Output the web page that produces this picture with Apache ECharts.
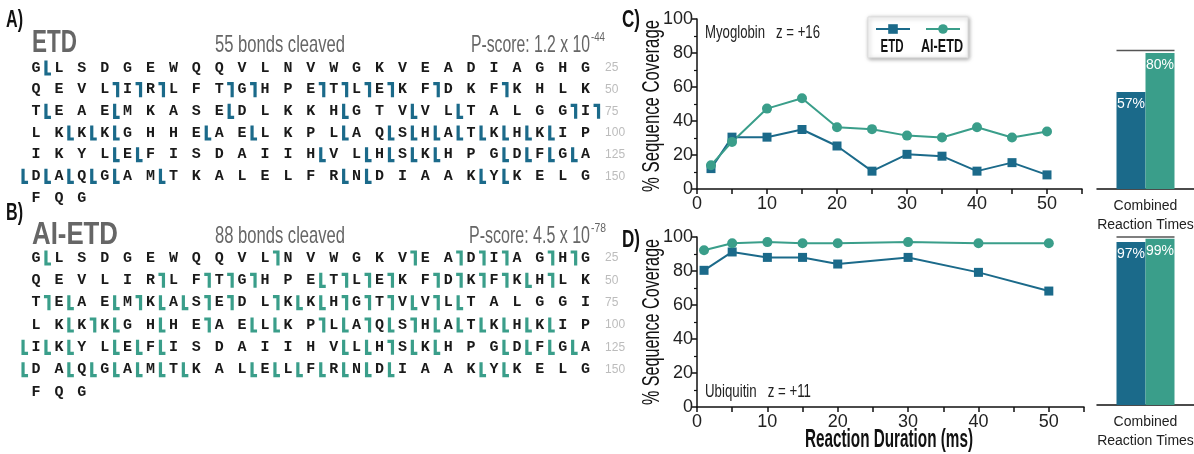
<!DOCTYPE html>
<html><head><meta charset="utf-8">
<script src="https://cdn.jsdelivr.net/npm/echarts@6/dist/echarts.min.js"></script>
<style>html,body{margin:0;padding:0;background:#fff}#c{width:1194px;height:454px}</style>
</head><body><div id="c"></div>
<script>
// ---------- data ----------
const sequence = 'GLSDGEWQQVLNVWGKVEADIAGHGQEVLIRLFTGHPETLEKFDKFKHLKTEAEMKASEDLKKHGTVVLTALGGILKKKGHHEAELKPLAQSHATKHKIPIKYLEFISDAIIHVLHSKHPGDFGADAQGAMTKALELFRNDIAAKYKELGFQG';
const rowNumbers = ['25', '50', '75', '100', '125', '150'];
// cleavage after residue n ; C = N-terminal (⌉), Z = C-terminal (⌊)
const etdC = [29,30,31,34,35,38,39,40,41,43,46,74,75];
const etdZ = [1,51,54,59,64,67,69,77,78,79,83,85,89,91,92,93,94,95,96,97,98,104,105,113,115,116,117,118,121,122,123,124,125,126,127,128,129,131,139,140,145,146];
const aiC = [11,17,19,20,21,23,24,31,33,34,35,39,40,41,43,44,45,46,48,51,55,58,59,61,64,65,66,68,78,83,88,90,92,116];
const aiZ = [1,38,47,52,54,56,57,62,63,67,69,77,79,81,85,86,89,91,93,94,95,96,97,98,100,101,102,104,105,106,114,115,117,118,121,122,123,124,125,127,128,129,130,131,132,135,136,137,138,139,140,141,145,146];

const myoDurations = [2,5,10,15,20,25,30,35,40,45,50];
const myoEtd = [12,30.5,30.5,35,25.3,10.5,20.4,19.3,10.5,15.5,8.3];
const myoAi  = [14,27.7,47.3,53.4,36.3,35.2,31.4,30.3,36.3,30.3,33.8];
const ubqDurations = [1,5,10,15,20,30,40,50];
const ubqEtd = [80.4,91.2,88,88,84.1,88,79.2,68.2];
const ubqAi  = [92.2,96.3,97,96.3,96.3,97,96.3,96.3];
const combinedCategory = ['Combined\nReaction Times'];
const myoCombined = {etd: 57, ai: 80, ref: 81.5};
const ubqCombined = {etd: 97, ai: 99, ref: 100};

// ---------- style ----------
const SANS = '"Liberation Sans",Arial,sans-serif';
const MONO = '"Liberation Mono","DejaVu Sans Mono",monospace';
const ETD_COLOR = '#1b6a8a';
const AI_COLOR = '#3a9e8a';

function letterData() {
  const d = [];
  for (let i = 0; i < sequence.length; i++) d.push([i % 25, Math.floor(i / 25)]);
  return d;
}
function markerData(cList, zList) {
  const d = [];
  cList.forEach(n => d.push([((n - 1) % 25) + 0.5, Math.floor((n - 1) / 25), 0]));
  zList.forEach(n => d.push([(n % 25) - 0.5, Math.floor(n / 25), 1]));
  return d;
}
function rowNumData() { return rowNumbers.map((t, i) => [24.85, i]); }

function seqSeries(gi, cList, zList, color) {
  return [
    {type: 'custom', xAxisIndex: gi, yAxisIndex: gi, data: letterData(), silent: true,
     renderItem: (params, api) => {
       const p = api.coord([api.value(0), api.value(1)]);
       return {type: 'text', x: p[0], y: p[1], style: {text: sequence[params.dataIndex], font: 'bold 15px ' + MONO, fill: '#1a1a1a', align: 'center', verticalAlign: 'middle'}};
     }},
    {type: 'custom', xAxisIndex: gi, yAxisIndex: gi, data: rowNumData(), silent: true,
     renderItem: (params, api) => {
       const p = api.coord([api.value(0), api.value(1)]);
       return {type: 'text', x: p[0], y: p[1], style: {text: rowNumbers[params.dataIndex], font: '12px ' + SANS, fill: '#bcbcbc', align: 'left', verticalAlign: 'middle'}};
     }},
    {type: 'custom', xAxisIndex: gi, yAxisIndex: gi, data: markerData(cList, zList), silent: true,
     renderItem: (params, api) => {
       const p = api.coord([api.value(0), api.value(1)]);
       const h = 7.5, w = 5;
       let pts;
       if (api.value(2) === 0) {
         const x = p[0] + 1.5;
         pts = [[x - w, p[1] - h + 1.5], [x, p[1] - h + 1.5], [x, p[1] + h]];
       } else {
         const x = p[0] - 1.5;
         pts = [[x, p[1] - h], [x, p[1] + h - 1.5], [x + w, p[1] + h - 1.5]];
       }
       return {type: 'polyline', shape: {points: pts}, style: {stroke: color, lineWidth: 3.2, fill: null, lineJoin: 'miter', lineCap: 'butt'}};
     }}
  ];
}

const axisLineStyle = {show: true, lineStyle: {color: '#111', width: 1.5}};
function lineXAxis(gi) {
  return {gridIndex: gi, type: 'value', min: 0, max: 55, interval: 5,
    axisLine: axisLineStyle, axisTick: {show: true, length: 5, lineStyle: {color: '#111', width: 1.5}},
    axisLabel: {formatter: v => (v % 10 === 0 && v <= 50) ? String(v) : '', fontFamily: SANS, fontSize: 18, color: '#222', margin: 6},
    splitLine: {show: false}};
}
function lineYAxis(gi) {
  return {gridIndex: gi, type: 'value', min: 0, max: 100, interval: 20,
    axisLine: axisLineStyle, axisTick: {show: true, length: 5, lineStyle: {color: '#111', width: 1.5}},
    minorTick: {show: true, splitNumber: 2, length: 3, lineStyle: {color: '#111', width: 1.2}},
    axisLabel: {fontFamily: SANS, fontSize: 18, color: '#222', margin: 4},
    splitLine: {show: false}, minorSplitLine: {show: false}};
}
function barXAxis(gi) {
  return {gridIndex: gi, type: 'category', data: combinedCategory,
    axisLine: axisLineStyle, axisTick: {show: false},
    axisLabel: {fontFamily: SANS, fontSize: 14, color: '#222', lineHeight: 19, margin: 8}};
}
function barYAxis(gi) { return {gridIndex: gi, type: 'value', min: 0, max: 100, show: false}; }

function lineSeries(gi, name, xs, ys, color, symbol, size) {
  return {type: 'line', name, xAxisIndex: gi, yAxisIndex: gi, data: xs.map((x, i) => [x, ys[i]]),
    symbol, symbolSize: size, showSymbol: true, itemStyle: {color}, lineStyle: {color, width: 2}};
}
function barSeries(gi, name, v, color) {
  return {type: 'bar', name: name + ' ', xAxisIndex: gi, yAxisIndex: gi, data: [v], barWidth: 29, barGap: '0%',
    itemStyle: {color}, label: {show: true, position: 'insideTop', distance: 5, formatter: '{c}%',
    color: '#fff', fontFamily: SANS, fontSize: 14}};
}
function refSeries(gi, v) {
  return {type: 'custom', xAxisIndex: gi, yAxisIndex: gi, data: [[0, v]], silent: true, z: 5,
    renderItem: (params, api) => {
      const p = api.coord([api.value(0), api.value(1)]);
      return {type: 'line', shape: {x1: p[0] - 29, y1: p[1], x2: p[0] + 29, y2: p[1]}, style: {stroke: '#555', lineWidth: 1.5}};
    }};
}

// text fitted to a target width (condensed look)
const mctx = document.createElement('canvas').getContext('2d');
function ftxt(x, y, text, font, width, fill, align, rotation) {
  mctx.font = font;
  const w = mctx.measureText(text).width;
  return {type: 'text', x, y, z: 100, scaleX: width / w, rotation: rotation || 0,
    style: {text, font, fill: fill || '#111', align: align || 'left', verticalAlign: 'middle'}};
}

const G = (o) => Object.assign({outerBoundsMode: 'none', containLabel: false}, o);
const chart = echarts.init(document.getElementById('c'));
chart.setOption({
  animation: false,
  grid: [
    G({left: 36, top: 68, width: 549.6, height: 130}),
    G({left: 36, top: 258, width: 549.6, height: 134}),
    G({left: 697, right: 112, top: 19, height: 170}),
    G({left: 697, right: 110, top: 237, height: 170}),
    G({left: 1097, right: 0, top: 19, height: 170}),
    G({left: 1097, right: 0, top: 237, height: 168})
  ],
  xAxis: [
    {gridIndex: 0, type: 'value', min: 0, max: 24, show: false},
    {gridIndex: 1, type: 'value', min: 0, max: 24, show: false},
    lineXAxis(2), lineXAxis(3), barXAxis(4), barXAxis(5)
  ],
  yAxis: [
    {gridIndex: 0, type: 'value', min: 0, max: 6, inverse: true, show: false},
    {gridIndex: 1, type: 'value', min: 0, max: 6, inverse: true, show: false},
    lineYAxis(2), lineYAxis(3), barYAxis(4), barYAxis(5)
  ],
  legend: {data: ['ETD', 'AI-ETD'], left: 868, top: 17, orient: 'horizontal',
    itemWidth: 34, itemHeight: 12, itemGap: 14, formatter: () => '',
    padding: [6, 7, 24, 7], backgroundColor: '#fff', borderColor: '#ddd', borderWidth: 1,
    shadowBlur: 4, shadowColor: 'rgba(0,0,0,0.35)', shadowOffsetX: 1, shadowOffsetY: 1},
  series: [
    ...seqSeries(0, etdC, etdZ, ETD_COLOR),
    ...seqSeries(1, aiC, aiZ, AI_COLOR),
    lineSeries(2, 'ETD', myoDurations, myoEtd, ETD_COLOR, 'rect', 9),
    lineSeries(2, 'AI-ETD', myoDurations, myoAi, AI_COLOR, 'circle', 10),
    lineSeries(3, 'ETD', ubqDurations, ubqEtd, ETD_COLOR, 'rect', 9),
    lineSeries(3, 'AI-ETD', ubqDurations, ubqAi, AI_COLOR, 'circle', 10),
    barSeries(4, 'ETD', myoCombined.etd, ETD_COLOR),
    barSeries(4, 'AI-ETD', myoCombined.ai, AI_COLOR),
    refSeries(4, myoCombined.ref),
    barSeries(5, 'ETD', ubqCombined.etd, ETD_COLOR),
    barSeries(5, 'AI-ETD', ubqCombined.ai, AI_COLOR),
    refSeries(5, ubqCombined.ref)
  ],
  graphic: [
    ftxt(6, 20, 'A)', 'bold 24px ' + SANS, 17),
    ftxt(32, 43, 'ETD', 'bold 32px ' + SANS, 45, '#666'),
    ftxt(215, 45, '55 bonds cleaved', '24px ' + SANS, 130, '#666'),
    ftxt(590, 46, 'P-score: 1.2 x 10', '23px ' + SANS, 119, '#666', 'right'),
    ftxt(591, 38, '-44', '12px ' + SANS, 14, '#666'),
    ftxt(6, 213, 'B)', 'bold 24px ' + SANS, 17),
    ftxt(32, 235, 'AI-ETD', 'bold 32px ' + SANS, 86, '#666'),
    ftxt(215, 236, '88 bonds cleaved', '24px ' + SANS, 130, '#666'),
    ftxt(590, 237, 'P-score: 4.5 x 10', '23px ' + SANS, 121, '#666', 'right'),
    ftxt(591, 229, '-78', '12px ' + SANS, 15, '#666'),
    ftxt(622, 20, 'C)', 'bold 24px ' + SANS, 18),
    ftxt(622, 240, 'D)', 'bold 24px ' + SANS, 18),
    ftxt(652, 106, '% Sequence Coverage', '24px ' + SANS, 172, '#111', 'center', Math.PI / 2),
    ftxt(652, 322, '% Sequence Coverage', '24px ' + SANS, 166, '#111', 'center', Math.PI / 2),
    ftxt(889, 440, 'Reaction Duration (ms)', 'bold 25px ' + SANS, 168, '#111', 'center'),
    ftxt(705, 33, 'Myoglobin   z = +16', '19px ' + SANS, 115, '#222'),
    ftxt(705, 392, 'Ubiquitin   z = +11', '19px ' + SANS, 106, '#222'),
    ftxt(892, 47, 'ETD', 'bold 18px ' + SANS, 23, '#111', 'center'),
    ftxt(942, 47, 'AI-ETD', 'bold 18px ' + SANS, 42, '#111', 'center')
  ]
});
</script></body></html>
